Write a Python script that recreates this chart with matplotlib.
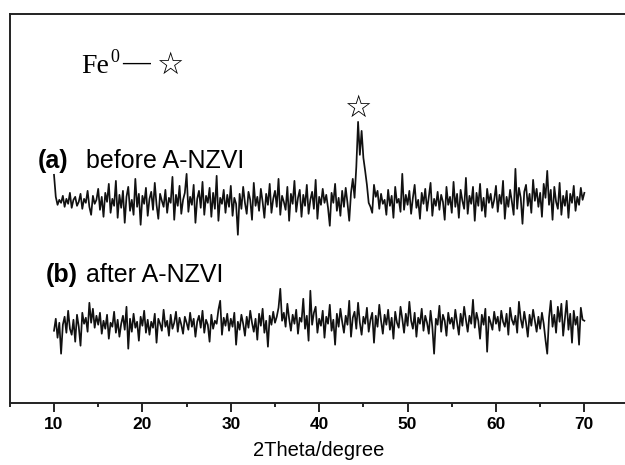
import numpy as np
import matplotlib
matplotlib.use('Agg')
import matplotlib.pyplot as plt

# intensity (arb. units), 2theta from 10 to 70 in 0.2 degree steps
before_nzvi = [228, 206, 198, 203, 200, 207, 196, 204, 199, 210, 195, 203, 206, 197, 201, 209, 194, 204, 200, 212, 196, 188, 207, 199, 203,
	214, 193, 206, 186, 210, 201, 219, 190, 204, 197, 222, 185, 208, 195, 212, 180, 206, 216, 192, 203, 188, 224, 196, 209, 178,
	207, 199, 215, 187, 204, 211, 193, 220, 198, 184, 209, 202, 196, 213, 190, 205, 200, 226, 183, 208, 197, 217, 189, 203, 210,
	229, 191, 206, 198, 218, 180, 204, 212, 195, 221, 188, 207, 200, 215, 186, 210, 194, 227, 182, 205, 199, 213, 190, 208, 196,
	217, 187, 205, 199, 168, 209, 194, 216, 200, 189, 211, 203, 183, 220, 197, 206, 192, 214, 201, 185, 209, 198, 219, 190, 204,
	212, 196, 224, 188, 207, 201, 193, 216, 182, 209, 199, 222, 191, 205, 213, 186, 208, 197, 218, 189, 203, 211, 194, 223, 184,
	206, 198, 214, 200, 208, 195, 177, 210, 200, 219, 192, 205, 187, 212, 196, 215, 200, 182, 210, 224, 205, 236, 281, 248, 272,
	245, 232, 218, 200, 196, 190, 218, 206, 212, 194, 209, 199, 203, 188, 213, 197, 207, 185, 216, 200, 204, 191, 229, 193, 208,
	198, 212, 189, 205, 218, 195, 203, 184, 210, 199, 214, 192, 206, 220, 187, 204, 197, 211, 193, 208, 201, 183, 216, 198, 206,
	190, 221, 196, 209, 185, 213, 202, 194, 225, 189, 207, 199, 216, 182, 210, 197, 219, 192, 205, 186, 214, 200, 209, 195, 203,
	217, 191, 208, 199, 222, 184, 206, 196, 213, 201, 188, 234, 194, 215, 205, 179, 211, 218, 197, 209, 190, 223, 202, 214, 196,
	210, 186, 219, 205, 232, 198, 213, 183, 216, 201, 194, 220, 188, 207, 197, 212, 185, 209, 200, 217, 192, 206, 198, 215, 203,
	210]

after_nzvi = [72, 84, 65, 80, 49, 78, 86, 70, 92, 74, 68, 83, 61, 88, 76, 57, 90, 79, 85, 71, 100, 80, 94, 75, 87,
	78, 90, 69, 82, 74, 88, 64, 80, 76, 91, 70, 83, 66, 79, 87, 73, 96, 54, 84, 71, 89, 75, 81, 62, 86,
	77, 92, 70, 83, 68, 81, 75, 89, 60, 84, 79, 72, 93, 76, 82, 67, 88, 74, 80, 91, 71, 85, 78, 69, 86,
	80, 73, 90, 76, 84, 66, 81, 87, 75, 92, 70, 83, 78, 61, 88, 74, 82, 79, 93, 102, 68, 85, 77, 89, 72,
	84, 76, 90, 58, 81, 73, 88, 79, 67, 86, 75, 92, 80, 71, 84, 63, 89, 77, 94, 70, 82, 56, 87, 78, 91,
	80, 86, 95, 114, 82, 90, 76, 99, 84, 72, 88, 79, 93, 69, 85, 81, 104, 74, 87, 62, 112, 78, 90, 96, 70,
	84, 77, 92, 65, 86, 79, 98, 72, 83, 58, 89, 76, 94, 81, 70, 87, 78, 102, 66, 85, 91, 74, 100, 80, 68,
	86, 79, 95, 71, 83, 90, 60, 87, 76, 98, 82, 69, 88, 78, 93, 73, 85, 64, 91, 80, 75, 96, 84, 70, 89,
	77, 101, 82, 74, 90, 66, 85, 79, 94, 72, 87, 80, 69, 92, 76, 49, 84, 78, 97, 71, 88, 82, 67, 90, 79,
	85, 74, 93, 80, 68, 89, 77, 96, 83, 71, 87, 79, 103, 75, 90, 82, 64, 88, 78, 94, 51, 86, 80, 73, 91,
	79, 86, 72, 92, 81, 76, 89, 68, 95, 83, 78, 87, 70, 101, 84, 75, 91, 80, 66, 88, 77, 93, 82, 71, 86,
	74, 90, 79, 63, 49, 85, 102, 76, 88, 70, 96, 81, 99, 67, 84, 102, 73, 89, 60, 92, 78, 86, 58, 95, 83,
	82]

x_ticks = [10, 20, 30, 40, 50, 60, 70]
fe_peak = 44.4

x_a = np.linspace(10, 70, len(before_nzvi))
x_b = np.linspace(10, 70, len(after_nzvi))

fig = plt.figure(figsize=(6.25, 4.65), dpi=100)
ax = fig.add_axes([0.0157, 0.134, 0.990, 0.836])

ax.plot(x_a, before_nzvi, color='#111111', lw=1.25)
ax.plot(x_b, after_nzvi, color='#111111', lw=1.25)

ax.set_xlim(5, 75)
ax.set_ylim(0, 389)
ax.set_yticks([])
ax.set_xticks(x_ticks)
ax.set_xticks(np.arange(5, 80, 10), minor=True)
ax.tick_params(axis='x', which='major', length=6.5, width=1.2, pad=4)
ax.tick_params(axis='x', which='minor', length=3, width=1.2)
for lab in ax.get_xticklabels():
	lab.set_fontfamily('Liberation Sans')
	lab.set_fontweight('bold')
	lab.set_fontsize(12.5)
ax.spines['right'].set_visible(False)
for s in ['left', 'bottom', 'top']:
	ax.spines[s].set_linewidth(1.4)
	ax.spines[s].set_color('#222222')

ax.set_xlabel('2Theta/degree', fontfamily='Liberation Sans', fontsize=14.5, labelpad=6)

# Fe0 legend
ax.text(13.05, 329.7, 'Fe', fontfamily='Liberation Serif', fontsize=20, va='baseline')
ax.text(16.4, 341, '0', fontfamily='Liberation Serif', fontsize=13, va='baseline')
ax.text(17.7, 333.5, '\u2014', fontfamily='Liberation Serif', fontweight='bold', fontsize=20, va='baseline')
ax.text(23.1, 338, '\u2606', fontfamily='DejaVu Sans', fontsize=22, ha='center', va='center')
ax.text(fe_peak, 295, '\u2606', fontfamily='DejaVu Sans', fontsize=22, ha='center', va='center')

ax.text(8.19, 234.4, '(a)', fontfamily='Liberation Sans', fontweight='bold', fontsize=18, va='baseline')
ax.text(13.62, 234.4, 'before A-NZVI', fontfamily='Liberation Sans', fontsize=18, va='baseline')
ax.text(9.10, 121, '(b)', fontfamily='Liberation Sans', fontweight='bold', fontsize=18, va='baseline')
ax.text(13.62, 121, 'after A-NZVI', fontfamily='Liberation Sans', fontsize=18, va='baseline')

fig.savefig('out.png', dpi=100)
